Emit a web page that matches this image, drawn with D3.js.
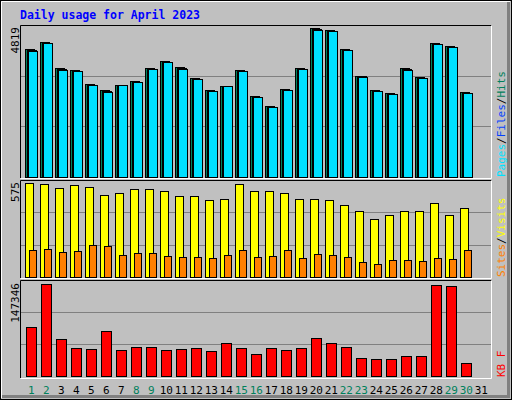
<!DOCTYPE html>
<html><head><meta charset="utf-8">
<script src="https://cdn.jsdelivr.net/npm/d3@7"></script>
<style>body{margin:0;background:#c0c0c0}svg{display:block}text{font-family:"DejaVu Sans Mono",monospace}</style>
</head><body><svg id="chart" width="512" height="400"></svg>
<script>
const days = d3.range(1, 32);
const weekend = [1, 2, 8, 9, 15, 16, 22, 23, 29, 30];
const hits = [4140,4366,3525,3460,3008,2814,2975,3105,3525,3751,3557,3202,2814,2943,3460,2620,2296,2846,3525,4819,4754,4140,3266,2814,2717,3525,3234,4334,4237,2749];
const files = [4110,4340,3495,3440,2985,2780,2975,3080,3505,3730,3525,3180,2790,2943,3440,2600,2275,2820,3505,4790,4730,4115,3266,2790,2695,3495,3210,4305,4210,2725];
const pages = [4075,4330,3460,3420,2975,2750,2960,3060,3490,3715,3500,3165,2770,2930,3420,2585,2265,2800,3490,4770,4720,4100,3250,2780,2680,3460,3195,4290,4195,2710];
const visits = [575,569,544,563,551,502,514,538,538,526,496,496,471,477,569,526,526,514,477,477,471,440,404,355,379,404,404,453,379,422];
const sites = [165,171,153,159,196,190,135,147,147,128,122,122,116,135,165,122,128,165,116,141,135,122,92,80,104,104,98,116,110,165];
const kbytes = [78845,147346,58932,44360,42742,71883,41122,45980,45980,41122,42742,44360,39504,52456,44360,34647,44360,41122,44360,60551,52456,45980,28171,26552,26552,31409,31409,146358,144739,20076];

const svg = d3.select("#chart");
// outer bevel
svg.append("rect").attr("x", 0.5).attr("y", 0.5).attr("width", 511).attr("height", 399).attr("fill", "#c0c0c0").attr("stroke", "#000");
svg.append("path").attr("d", "M1.5,398V1.5H510").attr("fill", "none").attr("stroke", "#fff");
svg.append("path").attr("d", "M2,396.5H508.5V2").attr("fill", "none").attr("stroke", "#808080").attr("stroke-width", 3);

svg.append("text").attr("x", 20).attr("y", 19).attr("fill", "#0000ff").attr("font-size", 11.5).attr("font-weight", "bold")
  .text("Daily usage for April 2023");

const x = d3.scaleLinear().domain([1, 31]).range([31.3, 481.3]);

const panels = [
  { top: 25, bottom: 178, base: 177, max: 4819, maxY: 28 },
  { top: 180, bottom: 278, base: 277, max: 575, maxY: 183 },
  { top: 280, bottom: 378, base: 376, max: 147346, maxY: 284 }
];
panels.forEach(p => {
  p.y = d3.scaleLinear().domain([0, p.max]).range([p.base, p.maxY]);
  for (let k = 1; k <= 2; k++) {
    const gy = Math.round(p.base - (p.base - p.top) * k / 3) + 0.5;
    svg.append("line").attr("x1", 21).attr("x2", 491).attr("y1", gy).attr("y2", gy).attr("stroke", "#808080");
  }
  svg.append("path").attr("d", `M20.5,${p.bottom}V${p.top + 0.5}H491.5`).attr("fill", "none").attr("stroke", "#000");
  svg.append("path").attr("d", `M20.5,${p.bottom + 0.5}H491.5V${p.top + 0.5}`).attr("fill", "none").attr("stroke", "#fff");
  svg.append("text").attr("transform", `translate(19,${p.maxY - 1}) rotate(-90)`).attr("text-anchor", "end")
    .attr("font-size", 11).attr("fill", "#000").text(p.max);
});

function bars(data, p, dx, w, color) {
  svg.append("g").selectAll("rect").data(data).join("rect")
    .attr("x", (d, i) => Math.round(x(i + 1)) + dx + 0.5)
    .attr("y", d => Math.round(p.y(d)) + 0.5)
    .attr("width", w)
    .attr("height", d => p.base - Math.round(p.y(d)))
    .attr("fill", color).attr("stroke", "#000");
}
bars(hits, panels[0], -6, 9, "#00805c");
bars(files, panels[0], -4, 9, "#0040ff");
bars(pages, panels[0], -3, 9, "#00e0ff");
bars(visits, panels[1], -6, 8, "#ffff00");
bars(sites, panels[1], -2, 7, "#ff8000");
bars(kbytes, panels[2], -5, 10, "#ff0000");

svg.append("g").selectAll("text").data(days).join("text")
  .attr("x", d => x(d)).attr("y", 394).attr("text-anchor", "middle").attr("font-size", 11)
  .attr("fill", d => weekend.includes(d) ? "#00805c" : "#000").text(d => d);

function sideLabel(y, parts) {
  const t = svg.append("text").attr("transform", `translate(505,${y}) rotate(-90)`).attr("font-size", 11);
  parts.forEach(([s, c]) => t.append("tspan").attr("fill", c).text(s));
}
sideLabel(177, [["Pages", "#00e0ff"], ["/", "#000"], ["Files", "#0040ff"], ["/", "#000"], ["Hits", "#00805c"]]);
sideLabel(277, [["Sites", "#ff8000"], ["/", "#000"], ["Visits", "#ffff00"]]);
sideLabel(377, [["KB F", "#ff0000"]]);
</script></body></html>
